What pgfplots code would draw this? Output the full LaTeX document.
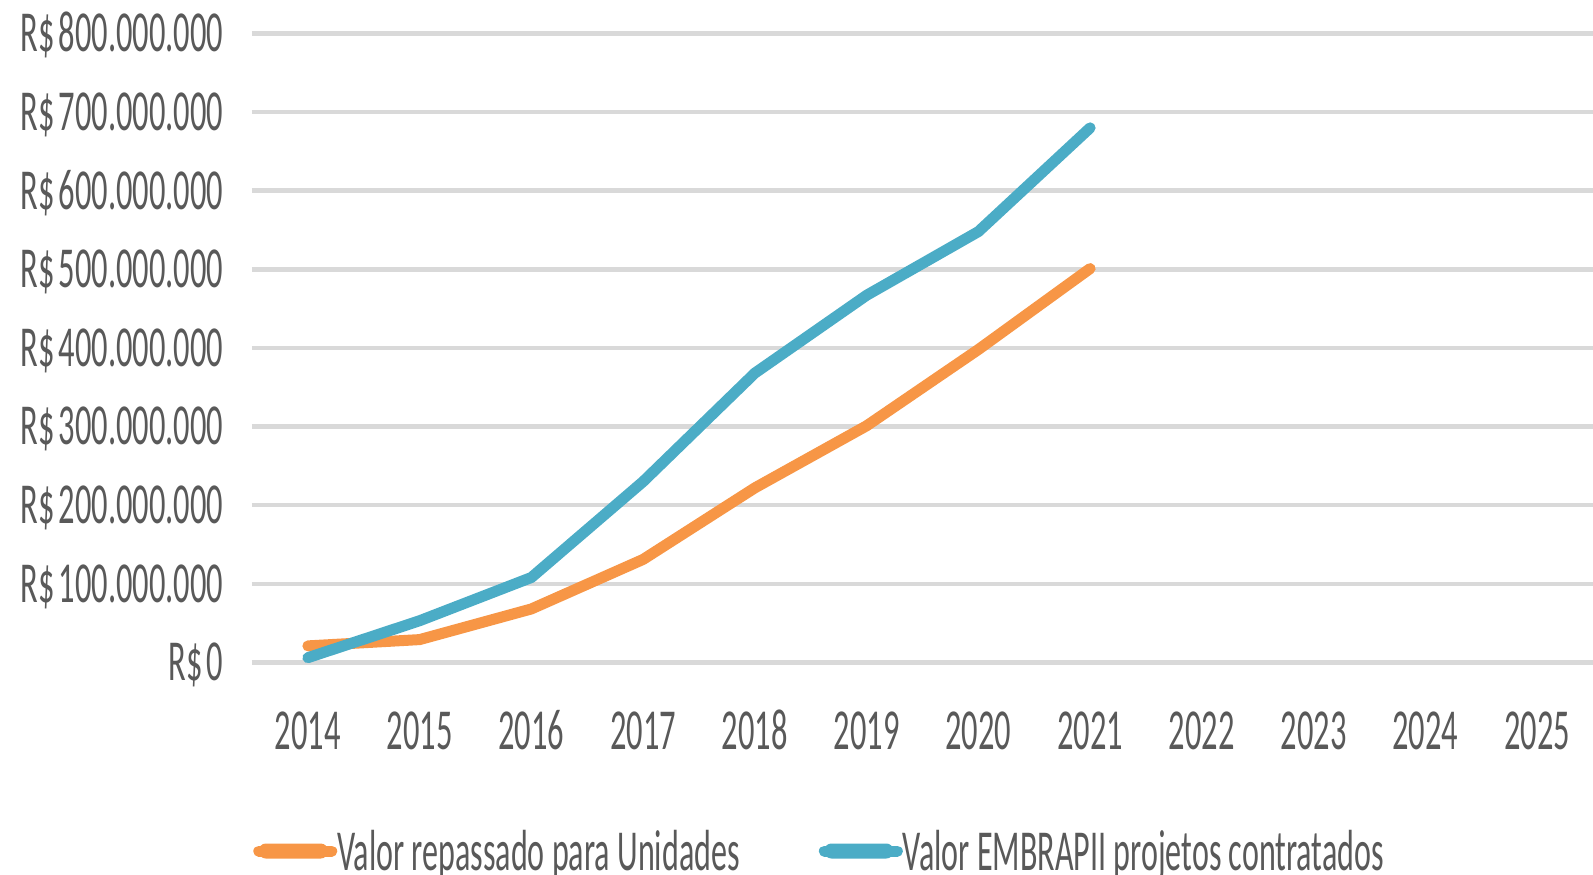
\documentclass[border=0pt]{standalone}
\usepackage{fontspec}
\setmainfont{Carlito}[FakeStretch=0.56]
\newfontfamily\legfont{Carlito}[FakeStretch=0.553]
\usepackage{pgfplots}
\pgfplotsset{compat=1.18}
\definecolor{orng}{HTML}{F79646}
\definecolor{blu}{HTML}{4BACC6}
\definecolor{grd}{HTML}{D9D9D9}
\definecolor{txt}{HTML}{595959}
\newcommand\bigf{\fontsize{58}{60}\selectfont}
\newcommand\rs{R\$\kern4pt}
\begin{document}
\begin{tikzpicture}
\begin{axis}[
  at={(0,0)}, anchor=south west,
  scale only axis, width=1341pt, height=628.9pt,
  xmin=2013.5, xmax=2025.5, ymin=0, ymax=800,
  axis line style={draw=none},
  xtick={2014,2015,2016,2017,2018,2019,2020,2021,2022,2023,2024,2025},
  xticklabels={2014,2015,2016,2017,2018,2019,2020,2021,2022,2023,2024,2025},
  ytick={0,100,200,300,400,500,600,700,800},
  yticklabels={\rs 0,\rs 100.000.000,\rs 200.000.000,\rs 300.000.000,\rs 400.000.000,\rs 500.000.000,\rs 600.000.000,\rs 700.000.000,\rs 800.000.000},
  tick style={draw=none},
  ymajorgrids, major grid style={grd, line width=4.5pt},
  tick label style={font=\bigf, text=txt, inner sep=0pt},
  yticklabel style={anchor=base east, xshift=-28.5pt, yshift=-18.4pt},
  xticklabel style={anchor=base, yshift=-87.4pt},
  legend columns=2,
  legend style={draw=none, fill=none, font=\legfont\bigf, text=txt,
    at={(axis description cs:0.0008,-0.2999)}, anchor=west, inner sep=0pt,
    nodes={inner sep=0pt},
    /tikz/every even column/.append style={column sep=79pt}},
  legend image code/.code={\fill[#1, draw=none, rounded corners=7pt] (0pt,-7.5pt) rectangle (69pt,7.5pt); \path (0pt,0pt) -- (73pt,0pt);},
  clip=false,
]
\addplot[orng, line width=11pt, line join=round, line cap=round] coordinates {
 (2014,21) (2015,29) (2016,68) (2017,131) (2018,222) (2019,301) (2020,398) (2021,501)};
\addlegendentry{Valor repassado para Unidades}
\addplot[blu, line width=11pt, line join=round, line cap=round] coordinates {
 (2014,6) (2015,53) (2016,108) (2017,230) (2018,368) (2019,467) (2020,548) (2021,680)};
\addlegendentry{Valor EMBRAPII projetos contratados}
\end{axis}
\pgfresetboundingbox
\path (-252pt,-212.6pt) rectangle (1341pt,662.4pt);
\end{tikzpicture}
\end{document}
